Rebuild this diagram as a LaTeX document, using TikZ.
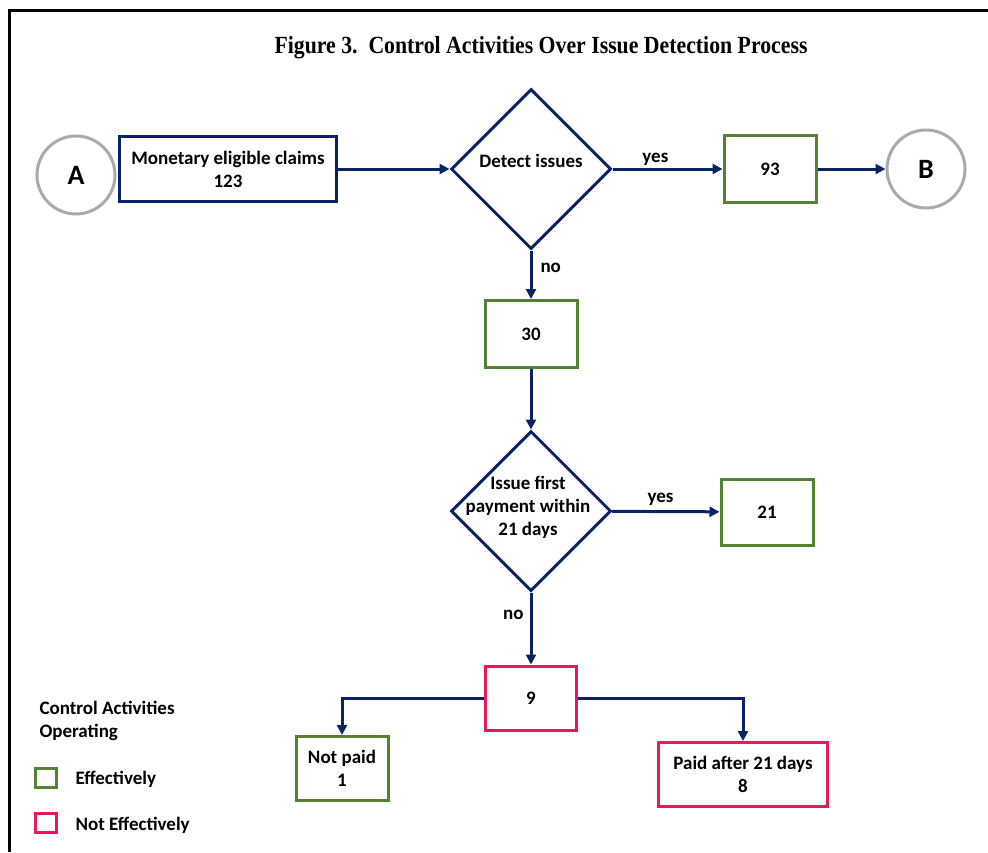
\documentclass[tikz,border=0pt]{standalone}
\usepackage{fontspec}
\setmainfont{Carlito}
\newfontfamily\titlefont{Liberation Serif}
\usetikzlibrary{arrows.meta,shapes.geometric}

\definecolor{navy}{HTML}{0B2263}
\definecolor{okgreen}{HTML}{548235}
\definecolor{badpink}{HTML}{E8195A}
\definecolor{ringgray}{HTML}{AAAAAA}

\tikzset{
  bodytext/.style={font=\fontsize{19}{23}\selectfont\bfseries},
  stepbox/.style={rectangle, line width=3pt, align=center, inner sep=0pt, bodytext},
  navybox/.style={stepbox, draw=navy},
  goodbox/.style={stepbox, draw=okgreen},
  badbox/.style={stepbox, draw=badpink},
  decision/.style={diamond, draw=navy, line width=3pt, inner sep=0pt,
                   minimum width=160pt, minimum height=160pt},
  connector/.style={circle, draw=ringgray, line width=3pt, minimum size=78pt,
                    inner sep=0pt, font=\fontsize{28}{30}\selectfont\bfseries},
  flow/.style={draw=navy, line width=3pt, -{Triangle[length=10pt,width=10pt]}},
  flowlabel/.style={bodytext, inner sep=2pt},
  keybox/.style={rectangle, line width=3pt, minimum width=21pt, minimum height=19pt, inner sep=0pt},
}

\begin{document}
\begin{tikzpicture}[x=1pt, y=-1pt]
  \useasboundingbox (0,0) rectangle (988,852);

  % frame on the left and top edges
  \draw[line width=3pt] (9,852) -- (9,10.5) -- (988,10.5);

  % title
  \node[font=\titlefont\fontsize{22}{26}\selectfont\bfseries] (title) at (541,48)
    {\scalebox{0.99}[1.12]{Figure 3.\ \ Control Activities Over Issue Detection Process}};

  % first row
  \node[connector] (A) at (76,175) {A};
  \node[navybox, minimum width=217pt, minimum height=65pt] (claims) at (228,169)
    {Monetary eligible claims\\123};
  \node[decision] (detect) at (531,169) {};
  \node[bodytext] (detecttext) at (531,161) {Detect issues};
  \node[goodbox, minimum width=92pt, minimum height=67pt] (b93) at (770,169) {93};
  \node[connector] (B) at (926,169) {B};

  \draw[flow] (claims) -- (detect);
  \draw[flow] (detect) -- node[flowlabel, above, pos=0.39] (yes1) {yes} (b93);
  \draw[flow] (b93) -- (B);

  % second decision
  \node[goodbox, minimum width=92pt, minimum height=67pt] (b30) at (531,334) {30};
  \node[decision] (firstpay) at (531,511) {};
  \node[bodytext, align=center] (firstpaytext) at (528,507)
    {Issue first\\payment within\\21 days};
  \node[goodbox, minimum width=92pt, minimum height=66pt] (b21) at (767,512) {21};

  \draw[flow] (detect) -- node[flowlabel, right, pos=0.36, xshift=6pt] (no1) {no} (b30);
  \draw[flow] (b30) -- (firstpay);
  \draw[flow] (firstpay) -- node[flowlabel, above, pos=0.45, yshift=3pt] (yes2) {yes} (b21);

  % outcome of late first payments
  \node[badbox, minimum width=91pt, minimum height=64pt] (b9) at (531,698) {9};
  \node[goodbox, minimum width=92pt, minimum height=64pt] (notpaid) at (342,768.5)
    {Not paid\\1};
  \node[badbox, minimum width=169pt, minimum height=64pt] (paid) at (743,774.5)
    {Paid after 21 days\\8};

  \draw[flow] (firstpay) -- node[flowlabel, left, pos=0.31, xshift=-4pt] (no2) {no} (b9);
  \draw[flow] (b9.west) -| (notpaid.north);
  \draw[flow] (b9.east) -| (paid.north);

  % legend
  \node[bodytext, align=left, anchor=west] (legendtitle) at (36,721)
    {Control Activities\\Operating};
  \node[keybox, draw=okgreen] (keygood) at (46,778) {};
  \node[bodytext, anchor=west] (keygoodtext) at (72,779) {Effectively};
  \node[keybox, draw=badpink] (keybad) at (46,822.5) {};
  \node[bodytext, anchor=west] (keybadtext) at (72,825) {Not Effectively};
\end{tikzpicture}
\end{document}
